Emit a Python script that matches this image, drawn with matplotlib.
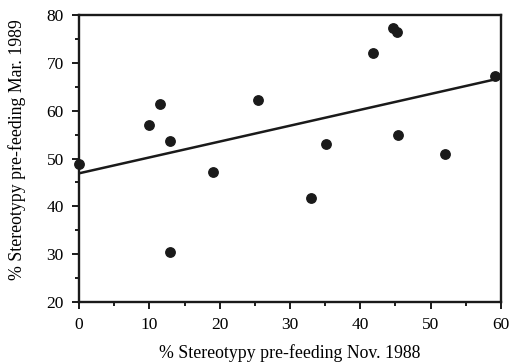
import matplotlib
matplotlib.use("Agg")
import matplotlib.pyplot as plt
from matplotlib.ticker import MultipleLocator

# % stereotypy pre-feeding
nov_1988 = [0.0, 10.0, 11.5, 13.0, 19.0, 12.9, 25.4, 35.1, 33.0, 41.8, 44.7, 45.2, 45.4, 52.1, 59.1]
mar_1989 = [48.8, 57.1, 61.3, 53.6, 47.1, 30.4, 62.2, 53.0, 41.8, 72.1, 77.2, 76.4, 55.0, 50.9, 67.2]

# regression line as drawn
fit_x = [0, 60]
intercept = 46.9
slope = 0.332

plt.rcParams['font.family'] = ['Liberation Serif', 'DejaVu Serif']

fig = plt.figure(figsize=(5.1, 3.64), dpi=100)
ax = fig.add_axes([79 / 510, 1 - 302 / 364, 422 / 510, 287 / 364])

ax.scatter(nov_1988, mar_1989, s=46, color='#1a1a1a', zorder=3, clip_on=False)
ax.plot(fit_x, [intercept + slope * x for x in fit_x], color='#1a1a1a', lw=1.8)

ax.set_xlim(0, 60)
ax.set_ylim(20, 80)
ax.xaxis.set_major_locator(MultipleLocator(10))
ax.xaxis.set_minor_locator(MultipleLocator(5))
ax.yaxis.set_major_locator(MultipleLocator(10))
ax.yaxis.set_minor_locator(MultipleLocator(5))
ax.tick_params(which='major', direction='out', length=5, width=1.4, labelsize=12.5, color='#1a1a1a')
ax.tick_params(which='minor', direction='out', length=3, width=1.4, color='#1a1a1a')
ax.tick_params(axis='x', pad=6)
ax.tick_params(axis='y', pad=6)
for s in ax.spines.values():
    s.set_linewidth(1.7)
    s.set_color('#1a1a1a')

ax.set_xlabel('% Stereotypy pre-feeding Nov. 1988', fontsize=12.8, labelpad=8)
ax.set_ylabel('% Stereotypy pre-feeding Mar. 1989', fontsize=12.8, labelpad=15, y=0.53)

fig.savefig('out.png', dpi=100)
